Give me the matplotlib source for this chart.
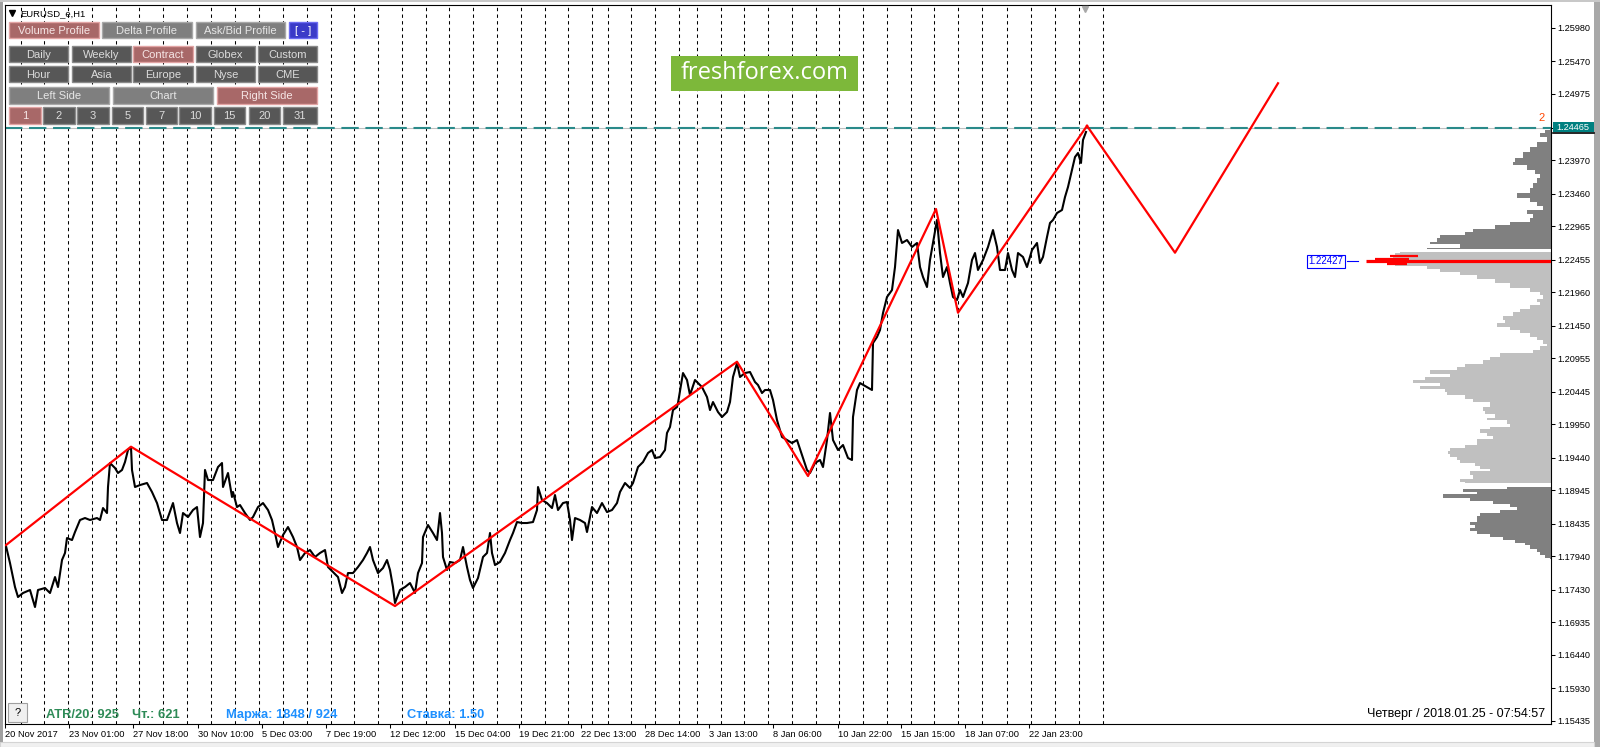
import matplotlib
matplotlib.use('Agg')
import matplotlib.pyplot as plt
from matplotlib.patches import Rectangle
import numpy as np

plt.rcParams['font.family'] = ['Liberation Sans', 'DejaVu Sans']
plt.rcParams['lines.scale_dashes'] = False

# ---- EURUSD H1 closes (bar index from left edge, price) ----
close_bar = [1, 2, 6, 11, 14, 19, 26, 31, 34, 41,
             46, 51, 54, 58, 61, 63, 68, 71, 76, 81,
             86, 93, 96, 99, 103, 104, 106, 111, 114, 118,
             121, 124, 127, 128, 131, 136, 143, 148, 153, 158,
             163, 169, 173, 176, 179, 184, 189, 193, 196, 199,
             201, 204, 209, 214, 218, 219, 224, 228, 229, 233,
             236, 241, 246, 249, 254, 259, 264, 268, 271, 274,
             279, 284, 289, 293, 296, 301, 306, 311, 316, 321,
             324, 329, 334, 338, 341, 344, 349, 354, 359, 363,
             366, 369, 374, 379, 383, 386, 389, 391, 396, 401,
             406, 411, 414, 418, 419, 424, 429, 433, 436, 438,
             439, 443, 446, 451, 456, 459, 463, 466, 469, 474,
             479, 483, 486, 488, 491, 496, 501, 506, 509, 513,
             518, 523, 529, 533, 534, 538, 543, 548, 551, 554,
             559, 563, 566, 568, 571, 576, 581, 583, 588, 593,
             598, 603, 608, 613, 616, 621, 626, 629, 634, 639,
             644, 648, 651, 656, 661, 663, 666, 669, 673, 674,
             679, 683, 686, 691, 694, 698, 703, 706, 709, 714,
             718, 723, 726, 729, 733, 736, 741, 746, 751, 754,
             758, 761, 766, 769, 773, 778, 783, 788, 793, 798,
             803, 806, 811, 816, 819, 823, 826, 829, 834, 839,
             844, 848, 849, 853, 856, 863, 868, 869, 873, 876,
             879, 883, 888, 891, 894, 898, 903, 908, 913, 916,
             919, 923, 926, 929, 933, 936, 939, 943, 946, 949,
             953, 956, 959, 964, 968, 971, 974, 979, 984, 989,
             993, 996, 1001, 1004, 1008, 1011, 1014, 1019, 1023, 1028,
             1033, 1036, 1039, 1043, 1046, 1049, 1053, 1058, 1061, 1064,
             1068, 1071, 1074, 1077, 1079, 1082]
close_px = [1.18112, 1.18097, 1.17838, 1.17473, 1.17321, 1.17382, 1.17428, 1.17169, 1.17428, 1.17458,
            1.17382, 1.17625, 1.17473, 1.17884, 1.17991, 1.18219, 1.18188, 1.18310, 1.18493, 1.18523,
            1.18493, 1.18523, 1.18493, 1.18675, 1.18599, 1.18995, 1.19360, 1.19284, 1.19208, 1.19254,
            1.19375, 1.19558, 1.19603, 1.19254, 1.18995, 1.19025, 1.19056, 1.18919, 1.18751, 1.18493,
            1.18493, 1.18751, 1.18447, 1.18295, 1.18599, 1.18538, 1.18645, 1.18690, 1.18234, 1.18447,
            1.19254, 1.19101, 1.19101, 1.19299, 1.19360, 1.18995, 1.19208, 1.18843, 1.18919, 1.18690,
            1.18721, 1.18599, 1.18493, 1.18538, 1.18690, 1.18751, 1.18645, 1.18493, 1.18295, 1.18082,
            1.18264, 1.18386, 1.18234, 1.18082, 1.17884, 1.17991, 1.18036, 1.17930, 1.17991, 1.18036,
            1.17778, 1.17701, 1.17625, 1.17382, 1.17473, 1.17686, 1.17686, 1.17778, 1.17884, 1.17991,
            1.18082, 1.17884, 1.17686, 1.17762, 1.17884, 1.17732, 1.17473, 1.17230, 1.17428, 1.17473,
            1.17534, 1.17382, 1.17686, 1.17838, 1.18234, 1.18417, 1.18295, 1.18188, 1.18599, 1.18295,
            1.17930, 1.17732, 1.17854, 1.17838, 1.17884, 1.18082, 1.17778, 1.17580, 1.17458, 1.17610,
            1.17930, 1.17991, 1.18295, 1.17991, 1.17808, 1.17854, 1.17991, 1.18188, 1.18295, 1.18462,
            1.18447, 1.18447, 1.18462, 1.18645, 1.18995, 1.18797, 1.18751, 1.18675, 1.18873, 1.18645,
            1.18751, 1.18767, 1.18493, 1.18188, 1.18523, 1.18493, 1.18447, 1.18310, 1.18690, 1.18599,
            1.18751, 1.18614, 1.18645, 1.18751, 1.18919, 1.19056, 1.18980, 1.19056, 1.19299, 1.19375,
            1.19512, 1.19558, 1.19436, 1.19451, 1.19558, 1.19817, 1.19908, 1.20166, 1.20212, 1.20273,
            1.20729, 1.20623, 1.20395, 1.20623, 1.20577, 1.20516, 1.20364, 1.20166, 1.20288, 1.20136,
            1.20060, 1.20136, 1.20288, 1.20669, 1.20882, 1.20669, 1.20729, 1.20745, 1.20593, 1.20547,
            1.20425, 1.20471, 1.20471, 1.20319, 1.20014, 1.19756, 1.19710, 1.19664, 1.19710, 1.19482,
            1.19254, 1.19208, 1.19360, 1.19406, 1.19299, 1.19710, 1.20121, 1.19710, 1.19558, 1.19634,
            1.19436, 1.19406, 1.20060, 1.20471, 1.20577, 1.20516, 1.20471, 1.21186, 1.21277, 1.21384,
            1.21642, 1.21886, 1.21992, 1.22342, 1.22905, 1.22708, 1.22753, 1.22647, 1.22708, 1.22342,
            1.22190, 1.22038, 1.22449, 1.22708, 1.23058, 1.22555, 1.22190, 1.22342, 1.22099, 1.21886,
            1.21840, 1.21992, 1.21886, 1.22099, 1.22449, 1.22555, 1.22297, 1.22449, 1.22647, 1.22905,
            1.22647, 1.22297, 1.22297, 1.22555, 1.22297, 1.22190, 1.22555, 1.22495, 1.22342, 1.22601,
            1.22708, 1.22403, 1.22495, 1.22799, 1.23012, 1.23058, 1.23164, 1.23210, 1.23407, 1.23560,
            1.23818, 1.24016, 1.24077, 1.23925, 1.24275, 1.24397]

# zigzag pivots and projection
zz_bar = [2, 127, 391, 733, 804, 932, 954, 1083]
zz_price = [1.18112, 1.19608, 1.17184, 1.20901, 1.19162, 1.23225, 1.21647, 1.24490]
proj_bar = [1083, 1171, 1274]
proj_price = [1.24490, 1.22560, 1.25138]

# day separators (bar index)
day_sep = [17, 40, 64, 88, 112, 135, 159, 183, 207, 231, 255, 279, 303, 327, 350, 374,
           398, 422, 445, 469, 493, 517, 541, 564, 588, 604, 627, 651, 675, 693, 717, 740,
           764, 788, 812, 835, 859, 883, 907, 930, 954, 978, 1003, 1027, 1051, 1075, 1099]

xtick_bars = [1, 65, 129, 194, 258, 322, 386, 451, 515, 577, 641, 705, 769, 834, 897, 961, 1025]
xtick_labels = ['20 Nov 2017', '23 Nov 01:00', '27 Nov 18:00', '30 Nov 10:00', '5 Dec 03:00',
                '7 Dec 19:00', '12 Dec 12:00', '15 Dec 04:00', '19 Dec 21:00', '22 Dec 13:00',
                '28 Dec 14:00', '3 Jan 13:00', '8 Jan 06:00', '10 Jan 22:00', '15 Jan 15:00',
                '18 Jan 07:00', '22 Jan 23:00']
ytick_vals = [1.25980, 1.25470, 1.24975, 1.24465, 1.23970, 1.23460, 1.22965, 1.22455,
              1.21960, 1.21450, 1.20955, 1.20445, 1.19950, 1.19440, 1.18945, 1.18435,
              1.17940, 1.17430, 1.16935, 1.16440, 1.15930, 1.15435]

high_level = 1.24465
poc_price = 1.22427
poc_vol = 185

# volume profile: above value area, value area, below value area
prof_top_price = [1.24457, 1.24412, 1.24351, 1.24275, 1.24199, 1.24123, 1.24047, 1.23970, 1.23925, 1.23849,
                  1.23788, 1.23727, 1.23666, 1.23590, 1.23514, 1.23438, 1.23362, 1.23301, 1.23240, 1.23179,
                  1.23118, 1.23058, 1.22997, 1.22951, 1.22905, 1.22860, 1.22814, 1.22753, 1.22708, 1.22662,
                  1.22616]
prof_top_vol = [1, 6, 11, 4, 14, 21, 28, 36, 38, 24,
                16, 11, 14, 18, 21, 34, 21, 14, 8, 24,
                18, 21, 41, 56, 78, 86, 111, 114, 121, 91,
                124]
prof_va_price = [1.22571, 1.22525, 1.22479, 1.22427, 1.22388, 1.22342, 1.22297, 1.22251, 1.22190, 1.22129,
                 1.22068, 1.21992, 1.21932, 1.21886, 1.21840, 1.21795, 1.21734, 1.21688, 1.21627, 1.21566,
                 1.21521, 1.21460, 1.21414, 1.21369, 1.21308, 1.21262, 1.21201, 1.21156, 1.21110, 1.21064,
                 1.21003, 1.20958, 1.20897, 1.20851, 1.20806, 1.20745, 1.20699, 1.20653, 1.20608, 1.20562,
                 1.20516, 1.20471, 1.20425, 1.20364, 1.20319, 1.20243, 1.20182, 1.20136, 1.20075, 1.20030,
                 1.19984, 1.19938, 1.19893, 1.19847, 1.19801, 1.19756, 1.19710, 1.19664, 1.19619, 1.19573,
                 1.19527, 1.19482, 1.19436, 1.19390, 1.19345, 1.19299, 1.19254, 1.19208, 1.19147, 1.19101,
                 1.19056]
prof_va_vol = [151, 156, 158, 158, 156, 124, 111, 91, 74, 56,
               41, 21, 11, 8, 14, 11, 21, 31, 38, 48,
               46, 54, 41, 31, 21, 14, 8, 4, 11, 18,
               51, 61, 68, 86, 94, 121, 101, 126, 138, 111,
               131, 106, 104, 86, 78, 61, 68, 66, 56, 64,
               44, 41, 61, 71, 64, 58, 74, 74, 86, 101,
               103, 101, 94, 91, 76, 71, 61, 81, 78, 91,
               86]
prof_low_price = [1.18995, 1.18949, 1.18904, 1.18858, 1.18812, 1.18767, 1.18721, 1.18675, 1.18630, 1.18584,
                  1.18538, 1.18493, 1.18447, 1.18401, 1.18356, 1.18310, 1.18264, 1.18219, 1.18173, 1.18128,
                  1.18082, 1.18036, 1.17991, 1.17945, 1.17899]
prof_low_vol = [44, 88, 74, 108, 81, 58, 41, 34, 51, 71,
                74, 74, 81, 76, 81, 74, 61, 48, 36, 26,
                21, 14, 11, 6, 1]
# short red rows next to the POC
red_row_price = [1.22514, 1.22460, 1.22385]
red_row_vol = [161, 176, 164]
red_row_len = [28, 34, 20]

W, H = 1600, 747
fig = plt.figure(figsize=(16, 7.47), dpi=100)
fig.patch.set_facecolor('white')
ax = fig.add_axes([4.5 / W, (H - 724) / H, (1551 - 4.5) / W, (724 - 5) / H])
right = 1547
ax.set_xlim(0.5, right)
ax.set_ylim(1.15389, 1.26329)

for b in day_sep:
    ax.axvline(b, color='black', lw=0.75, dashes=(2.4, 2.4), zorder=1)

for pr, vo, col in [(prof_top_price, prof_top_vol, '#808080'),
                    (prof_va_price, prof_va_vol, '#C0C0C0'),
                    (prof_low_price, prof_low_vol, '#808080')]:
    pr = np.array(pr)
    vo = np.array(vo)
    ax.fill_betweenx(pr, right - vo, right, step='mid', color=col, lw=0, zorder=2)

for p, v, ln in zip(red_row_price, red_row_vol, red_row_len):
    ax.plot([right - v, right - v + ln], [p, p], color='red', lw=1.6, solid_capstyle='butt', zorder=3)
ax.plot([right - poc_vol, right], [poc_price, poc_price], color='red', lw=2.3,
        solid_capstyle='butt', zorder=3)

ax.text(right - poc_vol - 40, poc_price, '%.5f' % poc_price, color='blue', fontsize=7,
        ha='center', va='center', zorder=5,
        bbox=dict(boxstyle='square,pad=0.2', fc='white', ec='blue', lw=0.8))
ax.plot([right - poc_vol - 19, right - poc_vol - 8], [poc_price, poc_price], color='blue', lw=0.8, zorder=5)

ax.axhline(high_level, color='#C0C0C0', lw=0.8, zorder=2)
ax.axhline(high_level, color='#2A8A8A', lw=1.5, dashes=(12.5, 4.8), zorder=2.5)

ax.plot(close_bar, close_px, color='black', lw=1.5, zorder=4)
ax.plot(zz_bar, zz_price, color='red', lw=1.6, zorder=4.5)
ax.plot(proj_bar, proj_price, color='red', lw=1.6, zorder=4.5)

ax.plot([1081], [0.995], marker='v', ms=5, color='#A8A8A8',
        transform=ax.get_xaxis_transform(), clip_on=False, zorder=6)

for s in ax.spines.values():
    s.set_color('black')
    s.set_linewidth(0.8)
ax.yaxis.tick_right()
ax.set_yticks(ytick_vals)
ax.set_yticklabels(['%.5f' % v for v in ytick_vals])
ax.tick_params(axis='y', length=3, width=0.75, pad=1.5, labelsize=6.6, colors='black')
ax.set_xticks(xtick_bars)
ax.set_xticklabels(xtick_labels)
ax.tick_params(axis='x', length=3, width=0.75, pad=1.5, labelsize=6.7, colors='black')
for lab in ax.get_xticklabels():
    lab.set_ha('left')

# ---- overlay in pixel space for the terminal widgets ----
ui = fig.add_axes([0, 0, 1, 1])
ui.set_xlim(0, W)
ui.set_ylim(H, 0)
ui.axis('off')
ui.patch.set_alpha(0)

ui.add_patch(Rectangle((0, 0), 3, H, fc='#A0A0A0', ec='none'))
ui.add_patch(Rectangle((1594, 0), 6, H, fc='#A8A8A8', ec='none'))
ui.add_patch(Rectangle((0, 0), W, 1.5, fc='#C8C8C8', ec='none'))
ui.add_patch(Rectangle((0, 742), 1594, 5, fc='#F0F0F0', ec='#D4D4D4', lw=0.8))

ui.plot([11.5], [13], marker='v', ms=4, color='black')
ui.text(20, 13.5, 'EURUSD_e,H1', fontsize=6.8, va='center', ha='left', color='black')

sel = ('#A86868', '#E2A4A4', '#F6E6E6')
light = ('#7F7F7F', '#A8A8A8', '#E6E6E6')
dark = ('#575757', '#8A8A8A', '#DCDCDC')
blue = ('#3A3AC8', '#6C6CF2', '#FFFFFF')


def button(x0, x1, y0, y1, label, style):
    fc, ec, tc = style
    ui.add_patch(Rectangle((x0, y0), x1 - x0, y1 - y0, fc=fc, ec=ec, lw=1.0))
    ui.text((x0 + x1) / 2, (y0 + y1) / 2 + 0.5, label, fontsize=8, color=tc,
            ha='center', va='center')


button(9, 99, 22, 38, 'Volume Profile', sel)
button(102, 192, 22, 38, 'Delta Profile', light)
button(196, 285, 22, 38, 'Ask/Bid Profile', light)
button(289, 317, 22, 38, '[ - ]', blue)

cols5 = [(9, 68), (72, 131), (133, 193), (196, 255), (258, 317)]
for (x0, x1), lab in zip(cols5, ['Daily', 'Weekly', 'Contract', 'Globex', 'Custom']):
    button(x0, x1, 46, 62, lab, sel if lab == 'Contract' else dark)
for (x0, x1), lab in zip(cols5, ['Hour', 'Asia', 'Europe', 'Nyse', 'CME']):
    button(x0, x1, 66, 82, lab, dark)

button(9, 109, 87, 104, 'Left Side', light)
button(113, 213, 87, 104, 'Chart', light)
button(217, 317, 87, 104, 'Right Side', sel)

cols9 = [(9, 41), (43, 75), (77, 109), (112, 143), (146, 177), (179, 211), (214, 245), (249, 280), (283, 317)]
for (x0, x1), lab in zip(cols9, ['1', '2', '3', '5', '7', '10', '15', '20', '31']):
    button(x0, x1, 107, 124, lab, sel if lab == '1' else dark)

# logo
ui.add_patch(Rectangle((671, 56), 187, 35, fc='#7DB83A', ec='none'))
ui.text(764.5, 73, 'freshforex.com', fontsize=17, color='white', ha='center', va='center',
        family=['Open Sans', 'DejaVu Sans'])

# right price label of the high
ui.add_patch(Rectangle((1553, 121.5), 41, 10.5, fc='#008080', ec='none'))
ui.plot([1553, 1594], [132.5, 132.5], color='black', lw=1.2)
ui.text(1556.5, 127, '%.5f' % high_level, fontsize=6.6, color='white', ha='left', va='center')
ui.text(1542, 118, '2', fontsize=8, color='#FF4500', ha='center', va='center')

# status line
ui.add_patch(Rectangle((8, 703), 19, 19, fc='#F0F0F0', ec='#A0A0A0', lw=0.8))
ui.text(17.5, 712.5, '?', fontsize=8, ha='center', va='center', color='black')
ui.text(46, 715, 'ATR/20: 925', fontsize=9.3, fontweight='bold', color='#2E8B57', va='center')
ui.text(132, 715, 'Чт.: 621', fontsize=9.3, fontweight='bold', color='#2E8B57', va='center')
ui.text(226, 715, 'Маржа: 1848 / 924', fontsize=9.3, fontweight='bold', color='#1E90FF', va='center')
ui.text(407, 715, 'Ставка: 1.50', fontsize=9.3, fontweight='bold', color='#1E90FF', va='center')
ui.text(1545, 714, 'Четверг / 2018.01.25 - 07:54:57', fontsize=9, color='black',
        ha='right', va='center')

fig.savefig('out.png', dpi=100, facecolor='white')
